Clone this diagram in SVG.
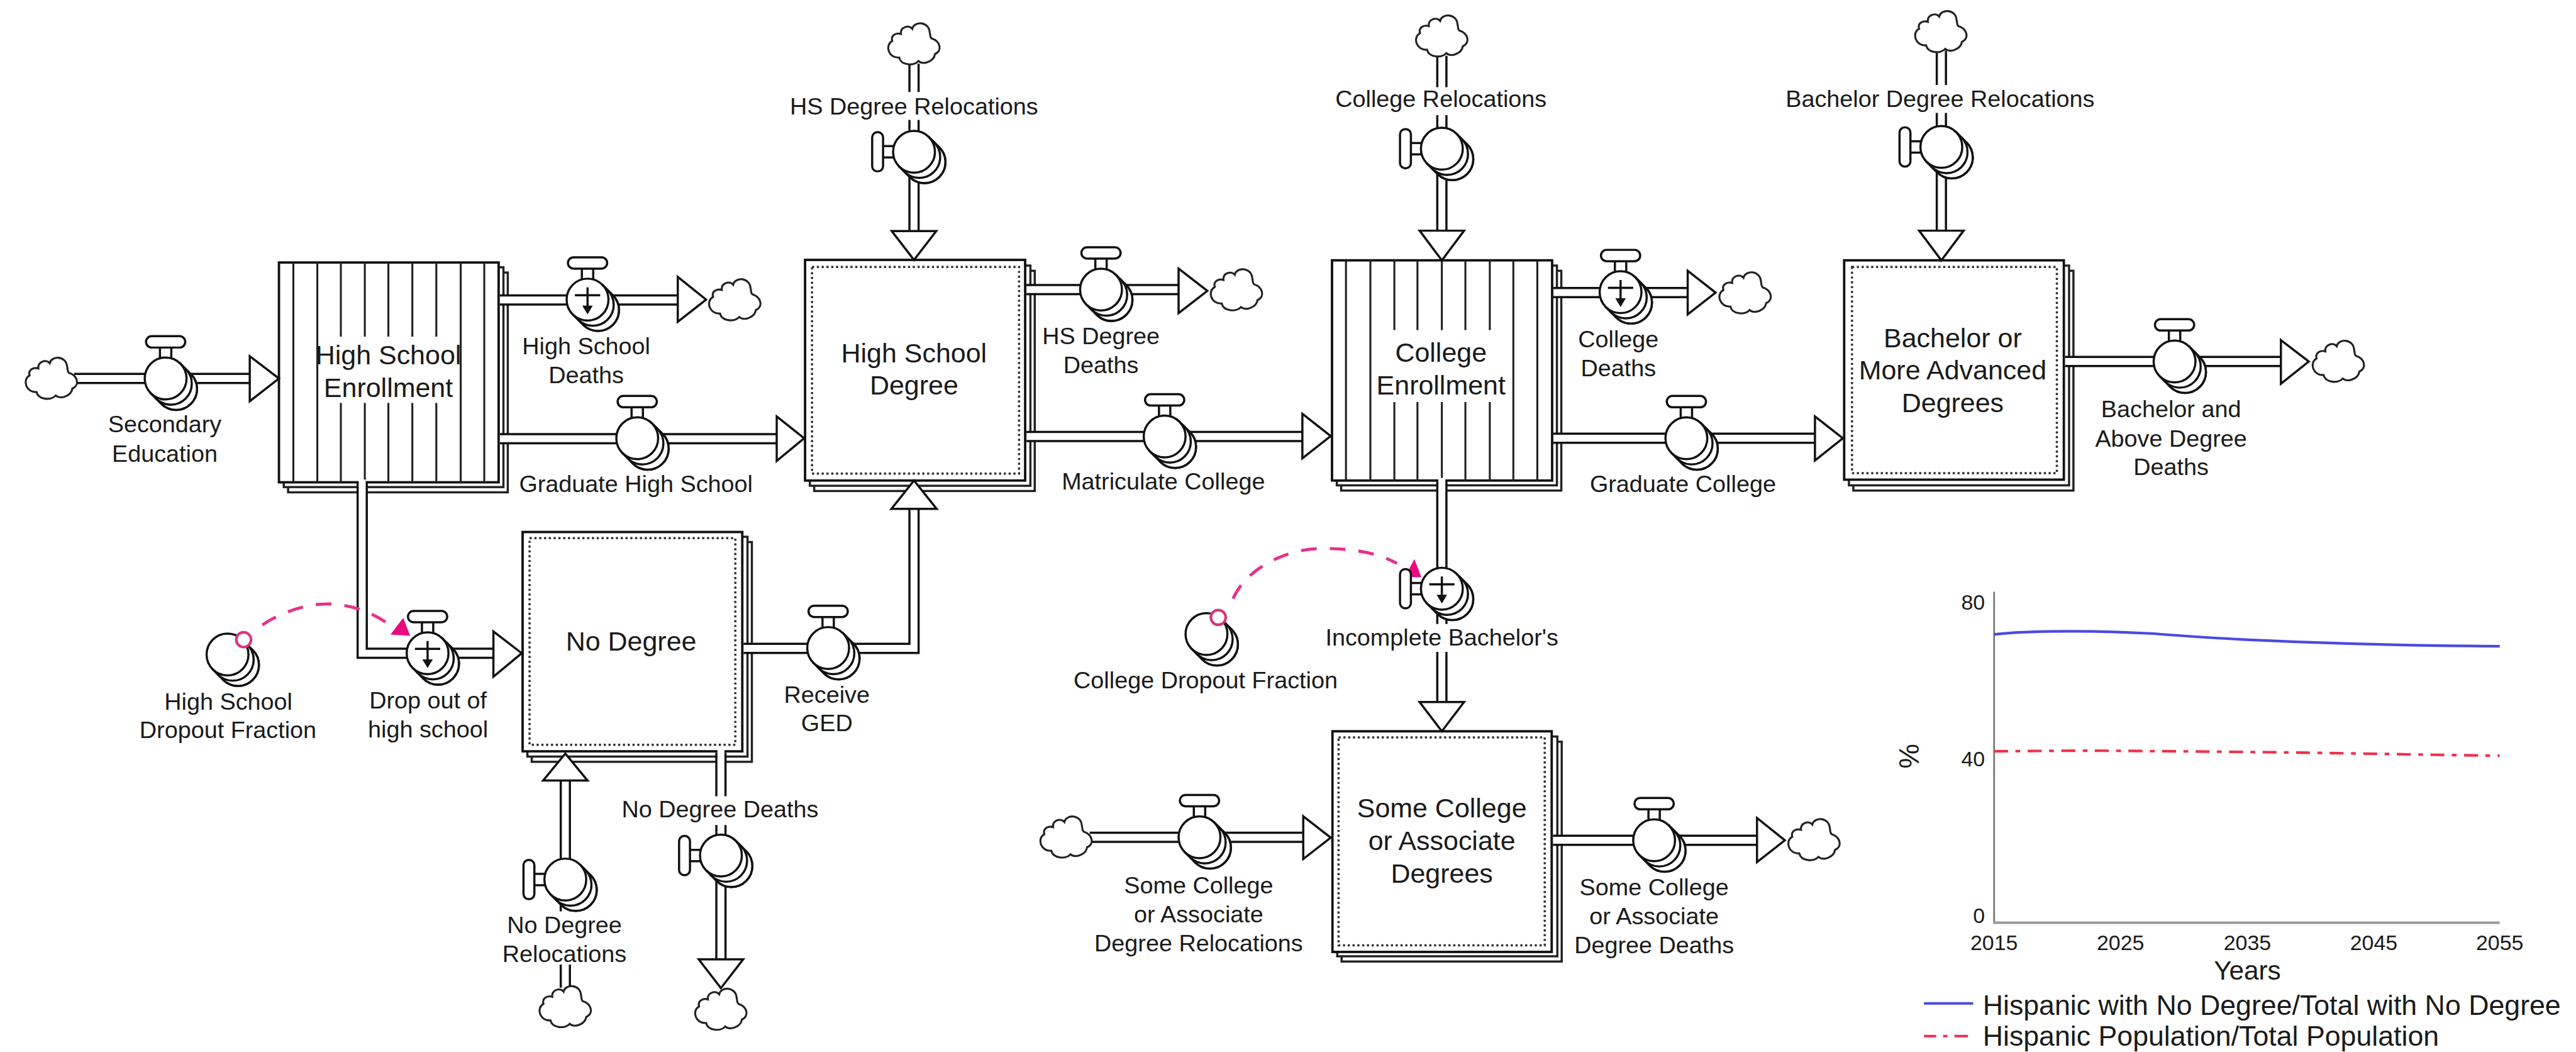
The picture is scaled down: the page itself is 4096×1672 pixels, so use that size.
<svg xmlns="http://www.w3.org/2000/svg" xmlns:xlink="http://www.w3.org/1999/xlink" width="4096" height="1672" viewBox="0 0 4096 1672">
<style>
text{font-family:"Liberation Sans",Arial,sans-serif;fill:#1a1a1a;text-anchor:middle}
.s{font-size:54.5px}.b{font-size:62px}
.box{fill:#fff;stroke:#111;stroke-width:5.5}
.back{fill:#fff;stroke:#222;stroke-width:5}
.dot{fill:none;stroke:#333;stroke-width:5;stroke-dasharray:5 6}
.ln{fill:none;stroke:#222;stroke-width:4.5}
.po{fill:none;stroke:#111;stroke-width:26}
.pi{fill:none;stroke:#fff;stroke-width:16}
.hd{fill:#fff;stroke:#111;stroke-width:5;stroke-linejoin:miter}
.bg{fill:#fff}
.v{fill:#fff;stroke:#111;stroke-width:5}
.c{fill:#fff;stroke:#222;stroke-width:4.5}
.dash{fill:none;stroke:#e8308a;stroke-width:7;stroke-dasharray:36 30}
.tri{fill:#ea0a80}
.ring{fill:#fff;stroke:#d8357e;stroke-width:6}
.tk{font-size:49px}
.lg{font-size:64.5px;text-anchor:start}
</style>
<defs>
<g id="body">
<path class="v" d="M34,-34L58,-10A48,48 0 0 1 -10,58L-34,34Z"/>
<circle class="v" cx="24" cy="24" r="48"/>
<circle class="v" cx="12" cy="12" r="48"/>
<circle class="v" cx="0" cy="0" r="48"/>
</g>
<g id="valveT">
<rect class="v" x="-13" y="-74" width="26" height="30"/>
<rect class="v" x="-45" y="-97" width="90" height="26" rx="13"/>
<use href="#body" xlink:href="#body"/>
</g>
<g id="valveL">
<rect class="v" x="-74" y="-13" width="30" height="26"/>
<rect class="v" x="-96" y="-45" width="25" height="90" rx="12"/>
<use href="#body" xlink:href="#body"/>
</g>
<g id="plus">
<path d="M-29,-10H29M0,-28V20" fill="none" stroke="#111" stroke-width="5"/>
<path d="M-12,14H12L0,34Z" fill="#111"/>
</g>
<path id="cloud" class="c" d="M-30,-22C-32,-38 -12,-44 -4,-34C0,-52 34,-52 36,-26C38,-18 36,-16 40,-12C60,-6 66,16 48,24C46,40 22,50 10,40C0,52 -30,50 -34,32C-58,34 -68,4 -50,-6C-54,-18 -42,-26 -30,-22Z"/>
</defs>
<rect width="4096" height="1672" fill="#fff"/>
<g transform="scale(0.69306)">

<g id="stock-high-school-enrollment">
<rect class="back" x="661" y="625" width="504" height="504"/><rect class="back" x="651" y="613" width="504" height="504"/>
<rect class="box" x="640" y="602" width="504" height="504"/>
<path class="ln" d="M673,602V1106M728,602V1106M782,602V1106M837,602V1106M891,602V1106M946,602V1106M1001,602V1106M1057,602V1106M1111,602V1106"/>
<rect class="bg" x="733" y="772" width="319" height="152"/>
<text class="b" x="891" y="835">High School</text><text class="b" x="891" y="911">Enrollment</text>
</g>
<g id="stock-high-school-degree">
<rect class="back" x="1868" y="621" width="506" height="505"/><rect class="back" x="1858" y="609" width="506" height="505"/>
<rect class="box" x="1847" y="596" width="505" height="506"/>
<rect class="dot" x="1863" y="612" width="475" height="474"/>
<text class="b" x="2097" y="831">High School</text><text class="b" x="2097" y="905">Degree</text>
</g>
<g id="stock-college-enrollment">
<rect class="back" x="3077" y="621" width="505" height="504"/><rect class="back" x="3067" y="609" width="505" height="504"/>
<rect class="box" x="3056" y="597" width="505" height="505"/>
<path class="ln" d="M3088,597V1102M3144,597V1102M3199,597V1102M3252,597V1102M3308,597V1102M3362,597V1102M3418,597V1102M3472,597V1102M3527,597V1102"/>
<rect class="bg" x="3150" y="757" width="316" height="165"/>
<text class="b" x="3306" y="830">College</text><text class="b" x="3306" y="905">Enrollment</text>
</g>
<g id="stock-bachelor">
<rect class="back" x="4252" y="621" width="505" height="504"/><rect class="back" x="4242" y="609" width="505" height="504"/>
<rect class="box" x="4231" y="597" width="504" height="503"/>
<rect class="dot" x="4249" y="612" width="470" height="473"/>
<text class="b" x="4480" y="796">Bachelor or</text><text class="b" x="4480" y="870">More Advanced</text><text class="b" x="4480" y="945">Degrees</text>
</g>
<g id="stock-no-degree">
<rect class="back" x="1220" y="1243" width="505" height="504"/><rect class="back" x="1210" y="1231" width="505" height="504"/>
<rect class="box" x="1199" y="1220" width="504" height="503"/>
<rect class="dot" x="1215" y="1234" width="472" height="474"/>
<text class="b" x="1448" y="1492">No Degree</text>
</g>
<g id="stock-some-college">
<rect class="back" x="3078" y="1701" width="505" height="504"/><rect class="back" x="3068" y="1689" width="505" height="504"/>
<rect class="box" x="3057" y="1677" width="503" height="506"/>
<rect class="dot" x="3071" y="1691" width="473" height="477"/>
<text class="b" x="3308" y="1875">Some College</text><text class="b" x="3308" y="1950">or Associate</text><text class="b" x="3308" y="2025">Degrees</text>
</g>

<g id="connectors">
<path class="po" d="M170,868H580"/><path class="pi" d="M170,868H585"/><polygon class="hd" points="573,817 640,868 573,920"/>
<path class="po" d="M1147,688H1560"/><path class="pi" d="M1147,688H1565"/><polygon class="hd" points="1555,635 1620,687 1555,738"/>
<path class="po" d="M1147,1006H1790"/><path class="pi" d="M1147,1006H1795"/><polygon class="hd" points="1782,955 1845,1005 1782,1057"/>
<path class="po" d="M831,1106V1498H940"/><path class="pi" d="M831,1100V1498H940"/>
<path class="po" d="M1020,1498H1140"/><path class="pi" d="M1020,1498H1145"/><polygon class="hd" points="1132,1448 1197,1498 1132,1552"/>
<path class="po" d="M1706,1487H2097V1160"/><path class="pi" d="M1706,1487H2097V1155"/><polygon class="hd" points="2045,1167 2097,1102 2149,1167"/>
<path class="po" d="M2097,146V540"/><path class="pi" d="M2097,146V545"/><polygon class="hd" points="2046,530 2097,596 2148,530"/>
<path class="po" d="M2355,664H2712"/><path class="pi" d="M2355,664H2716"/><polygon class="hd" points="2704,616 2770,667 2704,718"/>
<path class="po" d="M2355,1001H2995"/><path class="pi" d="M2355,1001H3000"/><polygon class="hd" points="2988,949 3053,1000 2988,1051"/>
<path class="po" d="M3308,128V540"/><path class="pi" d="M3308,128V545"/><polygon class="hd" points="3257,529 3308,597 3359,529"/>
<path class="po" d="M3564,671H3880"/><path class="pi" d="M3564,671H3885"/><polygon class="hd" points="3872,621 3936,671 3872,721"/>
<path class="po" d="M3564,1005H4170"/><path class="pi" d="M3564,1005H4175"/><polygon class="hd" points="4164,955 4228,1005 4164,1056"/>
<path class="po" d="M4454,116V540"/><path class="pi" d="M4454,116V545"/><polygon class="hd" points="4403,529 4454,597 4505,529"/>
<path class="po" d="M4738,829H5240"/><path class="pi" d="M4738,829H5245"/><polygon class="hd" points="5233,780 5297,829 5233,880"/>
<path class="po" d="M3308,1102V1620"/><path class="pi" d="M3308,1096V1625"/><polygon class="hd" points="3257,1610 3308,1677 3359,1610"/>
<path class="po" d="M2500,1920H3000"/><path class="pi" d="M2500,1920H3005"/><polygon class="hd" points="2990,1872 3053,1921 2990,1970"/>
<path class="po" d="M3563,1927H4040"/><path class="pi" d="M3563,1927H4045"/><polygon class="hd" points="4031,1876 4095,1927 4031,1977"/>
<path class="po" d="M1297,2265V1780"/><path class="pi" d="M1297,2265V1775"/><polygon class="hd" points="1246,1790 1297,1728 1348,1790"/>
<path class="po" d="M1654,1726V2208"/><path class="pi" d="M1654,1720V2213"/><polygon class="hd" points="1603,2200 1654,2266 1705,2200"/>
<path class="dash" d="M602,1433C650,1400 720,1380 770,1386C820,1390 870,1412 902,1440"/>
<polygon class="tri" points="925,1417 941,1458 896,1455"/>
<path class="dash" d="M2829,1373C2860,1300 2960,1255 3040,1258C3110,1258 3165,1270 3205,1292"/>
<polygon class="tri" points="3245,1282 3261,1324 3223,1323"/>
</g>

<g id="cloud-1"><use href="#cloud" xlink:href="#cloud" x="118" y="867"/></g>
<g id="cloud-2"><use href="#cloud" xlink:href="#cloud" x="1686" y="687"/></g>
<g id="cloud-3"><use href="#cloud" xlink:href="#cloud" x="2097" y="100"/></g>
<g id="cloud-4"><use href="#cloud" xlink:href="#cloud" x="2837" y="664"/></g>
<g id="cloud-5"><use href="#cloud" xlink:href="#cloud" x="3308" y="82"/></g>
<g id="cloud-6"><use href="#cloud" xlink:href="#cloud" x="4004" y="671"/></g>
<g id="cloud-7"><use href="#cloud" xlink:href="#cloud" x="4453" y="72"/></g>
<g id="cloud-8"><use href="#cloud" xlink:href="#cloud" x="5365" y="828"/></g>
<g id="cloud-9"><use href="#cloud" xlink:href="#cloud" x="1297" y="2308"/></g>
<g id="cloud-10"><use href="#cloud" xlink:href="#cloud" x="1654" y="2314"/></g>
<g id="cloud-11"><use href="#cloud" xlink:href="#cloud" x="2446" y="1919"/></g>
<g id="cloud-12"><use href="#cloud" xlink:href="#cloud" x="4162" y="1925"/></g>

<g id="flow-secondary-education"><use href="#valveT" xlink:href="#valveT" x="380" y="868"/>
<text class="s" x="378" y="991">Secondary</text><text class="s" x="378" y="1059">Education</text></g>
<g id="flow-high-school-deaths"><use href="#valveT" xlink:href="#valveT" x="1348" y="687"/><use href="#plus" xlink:href="#plus" x="1348" y="687"/>
<text class="s" x="1345" y="812">High School</text><text class="s" x="1345" y="878">Deaths</text></g>
<g id="flow-graduate-high-school"><use href="#valveT" xlink:href="#valveT" x="1462" y="1005"/>
<text class="s" x="1459" y="1129">Graduate High School</text></g>
<g id="flow-drop-out"><use href="#valveT" xlink:href="#valveT" x="981" y="1498"/><use href="#plus" xlink:href="#plus" x="981" y="1498"/>
<text class="s" x="982" y="1625">Drop out of</text><text class="s" x="982" y="1691">high school</text></g>
<g id="flow-receive-ged"><use href="#valveT" xlink:href="#valveT" x="1900" y="1486"/>
<text class="s" x="1897" y="1611">Receive</text><text class="s" x="1897" y="1677">GED</text></g>
<g id="flow-hs-degree-relocations"><rect class="bg" x="1810" y="211" width="574" height="64"/><use href="#valveL" xlink:href="#valveL" x="2097" y="348"/>
<text class="s" x="2097" y="262">HS Degree Relocations</text></g>
<g id="flow-hs-degree-deaths"><use href="#valveT" xlink:href="#valveT" x="2526" y="664"/>
<text class="s" x="2526" y="789">HS Degree</text><text class="s" x="2526" y="856">Deaths</text></g>
<g id="flow-matriculate-college"><use href="#valveT" xlink:href="#valveT" x="2672" y="1001"/>
<text class="s" x="2669" y="1123">Matriculate College</text></g>
<g id="flow-college-relocations"><rect class="bg" x="3062" y="200" width="490" height="64"/><use href="#valveL" xlink:href="#valveL" x="3308" y="341"/>
<text class="s" x="3306" y="246">College Relocations</text></g>
<g id="flow-college-deaths"><use href="#valveT" xlink:href="#valveT" x="3718" y="670"/><use href="#plus" xlink:href="#plus" x="3718" y="670"/>
<text class="s" x="3713" y="796">College</text><text class="s" x="3713" y="863">Deaths</text></g>
<g id="flow-graduate-college"><use href="#valveT" xlink:href="#valveT" x="3869" y="1005"/>
<text class="s" x="3861" y="1129">Graduate College</text></g>
<g id="flow-bachelor-relocations"><rect class="bg" x="4094" y="195" width="714" height="64"/><use href="#valveL" xlink:href="#valveL" x="4454" y="337"/>
<text class="s" x="4451" y="245">Bachelor Degree Relocations</text></g>
<g id="flow-bachelor-deaths"><use href="#valveT" xlink:href="#valveT" x="4989" y="829"/>
<text class="s" x="4981" y="956">Bachelor and</text><text class="s" x="4981" y="1024">Above Degree</text><text class="s" x="4981" y="1089">Deaths</text></g>
<g id="flow-no-degree-relocations"><rect class="bg" x="1140" y="2090" width="314" height="122"/><use href="#valveL" xlink:href="#valveL" x="1297" y="2017"/>
<text class="s" x="1295" y="2140">No Degree</text><text class="s" x="1295" y="2206">Relocations</text></g>
<g id="flow-no-degree-deaths"><rect class="bg" x="1420" y="1826" width="464" height="66"/><use href="#valveL" xlink:href="#valveL" x="1654" y="1962"/>
<text class="s" x="1652" y="1874">No Degree Deaths</text></g>
<g id="flow-incomplete-bachelors"><rect class="bg" x="3035" y="1431" width="546" height="64"/><use href="#valveL" xlink:href="#valveL" x="3308" y="1350"/><use href="#plus" xlink:href="#plus" x="3308" y="1350"/>
<text class="s" x="3308" y="1481">Incomplete Bachelor's</text></g>
<g id="flow-some-college-relocations"><use href="#valveT" xlink:href="#valveT" x="2752" y="1920"/>
<text class="s" x="2750" y="2049">Some College</text><text class="s" x="2750" y="2115">or Associate</text><text class="s" x="2750" y="2181">Degree Relocations</text></g>
<g id="flow-some-college-deaths"><use href="#valveT" xlink:href="#valveT" x="3795" y="1927"/>
<text class="s" x="3795" y="2053">Some College</text><text class="s" x="3795" y="2119">or Associate</text><text class="s" x="3795" y="2186">Degree Deaths</text></g>

<g id="aux-high-school-dropout-fraction"><use href="#body" xlink:href="#body" x="522" y="1501"/><circle class="ring" cx="559" cy="1467" r="17"/>
<text class="s" x="524" y="1627">High School</text><text class="s" x="523" y="1693">Dropout Fraction</text></g>
<g id="aux-college-dropout-fraction"><use href="#body" xlink:href="#body" x="2768" y="1454"/><circle class="ring" cx="2795" cy="1416" r="17"/>
<text class="s" x="2766" y="1578">College Dropout Fraction</text></g>

<g id="chart">
<path d="M4575,1357V2116" stroke="#777" stroke-width="4" fill="none"/>
<path d="M4573,2116H5735" stroke="#999" stroke-width="6" fill="none"/>
<path d="M4575,1455C4610,1450 4650,1449 4700,1448C4780,1447 4860,1449 4940,1453C5030,1460 5120,1466 5203,1469C5290,1473 5380,1476 5470,1478C5560,1481 5650,1481 5735,1482" fill="none" stroke="#4a4ae0" stroke-width="6"/>
<path d="M4575,1723C4680,1722 4790,1721 4885,1722C5000,1723 5110,1724 5203,1725C5380,1727 5560,1731 5735,1733" fill="none" stroke="#f0304a" stroke-width="6" stroke-dasharray="32 17 11 17"/>
<text class="tk" x="4554" y="1398" style="text-anchor:end">80</text>
<text class="tk" x="4554" y="1757" style="text-anchor:end">40</text>
<text class="tk" x="4554" y="2116" style="text-anchor:end">0</text>
<text class="tk" x="4575" y="2179">2015</text><text class="tk" x="4865" y="2179">2025</text><text class="tk" x="5156" y="2179">2035</text><text class="tk" x="5446" y="2179">2045</text><text class="tk" x="5735" y="2179">2055</text>
<text x="5156" y="2247" font-size="61">Years</text>
<text transform="translate(4402,1734) rotate(-90)" font-size="64">%</text>
<path d="M4414,2301H4527" stroke="#4a4ae0" stroke-width="6" fill="none"/>
<text class="lg" x="4549" y="2327">Hispanic with No Degree/Total with No Degree</text>
<path d="M4414,2376H4515" stroke="#f0304a" stroke-width="6" fill="none" stroke-dasharray="28 16 10 16 31"/>
<text class="lg" x="4549" y="2398">Hispanic Population/Total Population</text>
</g>
</g>
</svg>
